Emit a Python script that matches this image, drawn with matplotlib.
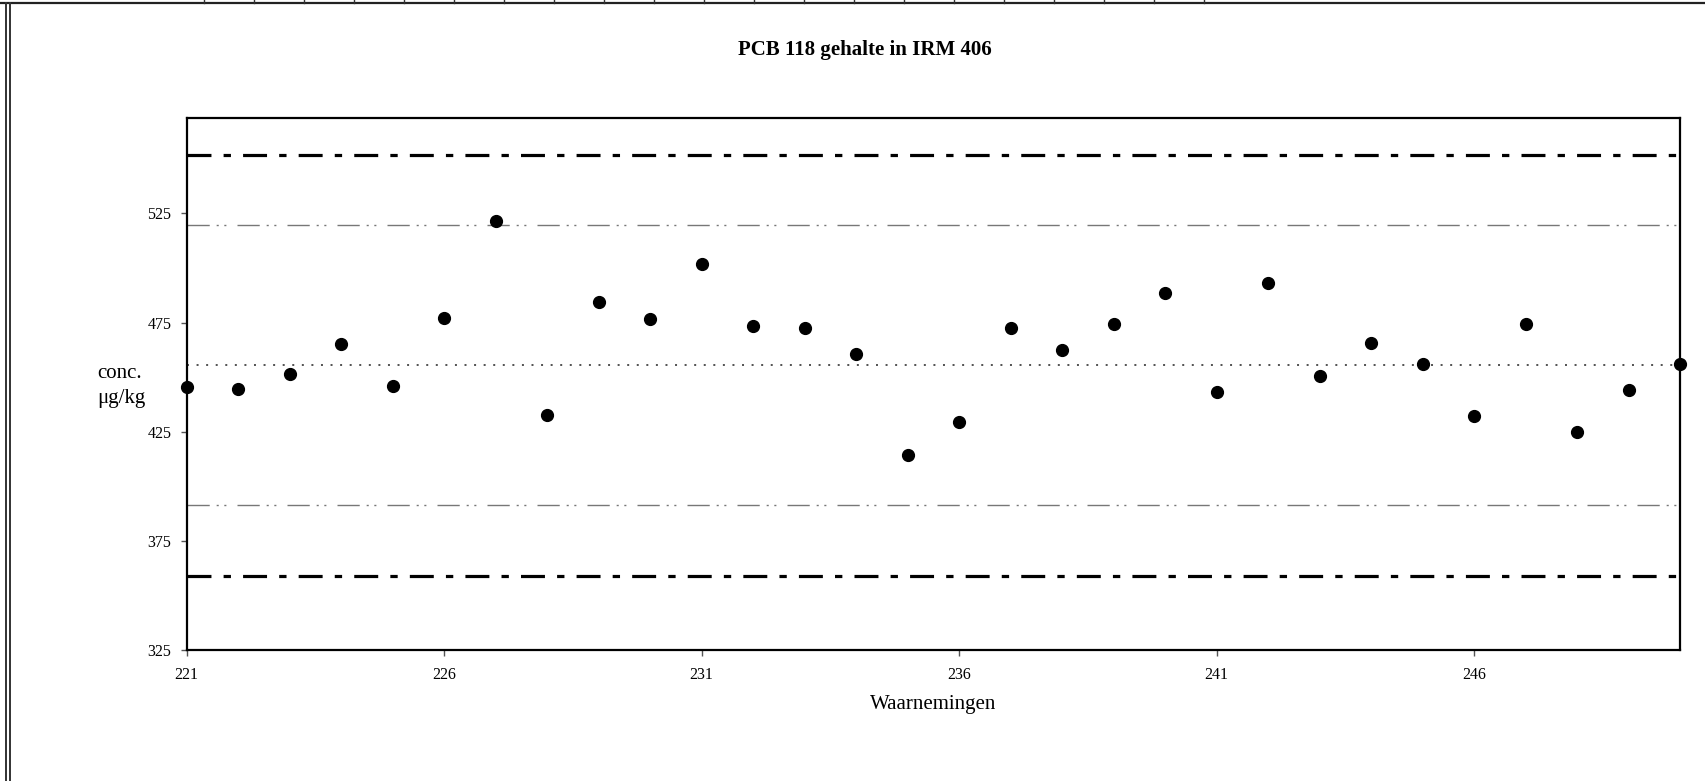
import matplotlib
matplotlib.use("Agg")
import matplotlib.pyplot as plt
from matplotlib.lines import Line2D
import numpy as np

# ---- data ----
observations = list(range(221, 251))
concentrations = [445.5, 444.5, 451.5, 465, 446, 477, 521.5, 432.5, 484.5, 476.5,
                  502, 473.5, 472.5, 460.5, 414.5, 429.5, 472.5, 462.5, 474.5, 488.5,
                  443, 493, 450.5, 465.5, 456, 432, 474.5, 425, 444, 456]
mean_value = 455.4
warning_limits = [391.2, 519.6]
control_limits = [359.0, 551.6]
y_ticks = [325, 375, 425, 475, 525]
x_ticks = [221, 226, 231, 236, 241, 246]

title = "PCB 118 gehalte in IRM 406"
xlabel = "Waarnemingen"
ylabel = "conc.\n\u03bcg/kg"

# ---- figure ----
W, H = 1706, 781
fig = plt.figure(figsize=(W / 100, H / 100), dpi=100)
plt.rcParams['font.family'] = ['Liberation Serif', 'DejaVu Serif']

left, right, top, bottom = 186.7, 1680, 118, 650
ax = fig.add_axes([left / W, 1 - bottom / H, (right - left) / W, (bottom - top) / H])

ax.set_xlim(221, 250)
ax.set_ylim(325, 568.7)

# control limits (thick dash-dot)
for v in control_limits:
    ax.axhline(v, color='black', lw=2.3, dashes=(7.5, 3.8, 2.3, 3.8), zorder=2)
# warning limits (thin gray dash-dot-dot)
for v in warning_limits:
    ax.axhline(v, color='#777777', lw=1.0, dashes=(16, 5, 1.5, 4, 1.5, 8), zorder=2)
# mean (dotted)
ax.axhline(mean_value, color='#444444', lw=1.3, dashes=(1.1, 4.2), zorder=2)

ax.plot(observations, concentrations, linestyle='none', marker='o', ms=8.5,
        color='black', zorder=5, clip_on=False)

ax.set_yticks(y_ticks)
ax.set_xticks(x_ticks)
ax.tick_params(axis='both', direction='out', length=4, width=1, labelsize=11.5, color='#555555')
ax.tick_params(axis='y', pad=7)
ax.tick_params(axis='x', pad=8)
for s in ax.spines.values():
    s.set_linewidth(1.6)
    s.set_color('black')

ax.set_xlabel(xlabel, fontsize=15, labelpad=9)

fig.text(97 / W, 1 - 386 / H, ylabel, ha='left', va='center', fontsize=15, linespacing=1.45)
fig.text(865 / W, 1 - 50 / H, title, ha='center', va='center', fontsize=15, fontweight='bold')

# scanned page frame
fig.add_artist(Line2D([0, 1], [1 - 3 / H, 1 - 3 / H], transform=fig.transFigure, color='#222222', lw=1.6))
for xp in (6, 10):
    fig.add_artist(Line2D([xp / W, xp / W], [0, 1 - 3 / H], transform=fig.transFigure, color='#333333', lw=1.4))
for xp in np.arange(204, 1210, 50):
    fig.add_artist(Line2D([xp / W, xp / W], [1 - 3 / H, 1], transform=fig.transFigure, color='#333333', lw=1.0))

fig.savefig("out.png", dpi=100, facecolor='white')
